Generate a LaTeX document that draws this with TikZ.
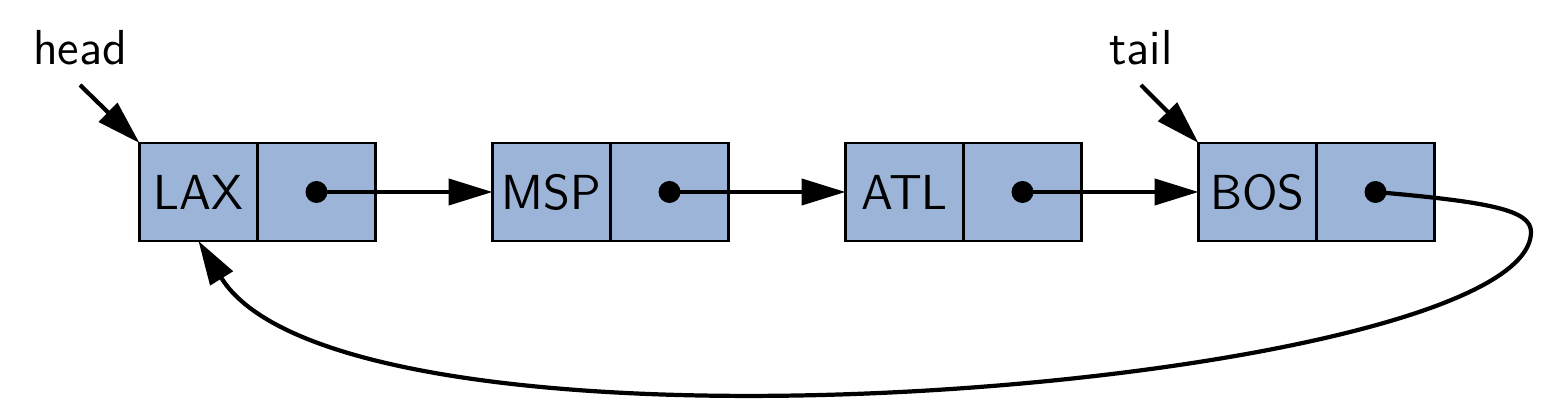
\documentclass[tikz,border=0pt]{standalone}
\usetikzlibrary{positioning,arrows.meta}
\definecolor{cellblue}{RGB}{157,180,217}
\begin{document}
\begin{tikzpicture}[
  font=\sffamily\fontsize{14}{17}\selectfont,
  cell/.style={draw, fill=cellblue, line width=0.8pt, outer sep=0pt,
    minimum width=1.18cm, minimum height=0.98cm, inner sep=0pt},
  link/.style={line width=1.2pt, -{Triangle[length=4.4mm,width=2.6mm]}},
  tag/.style={inner sep=0pt, anchor=base}
]
\useasboundingbox (0,0) rectangle (15.46,4.16);

\foreach \code [count=\i from 0] in {LAX,MSP,ATL,BOS} {
  \node[cell] (\code) at ({1.985+3.53*\i},2.24) {\code};
  \node[cell, right=0pt of \code] (\code p) {};
  \fill (\code p.center) circle (0.11);
}

\draw[link] (LAXp.center) -- (MSP.west);
\draw[link] (MSPp.center) -- (ATL.west);
\draw[link] (ATLp.center) -- (BOS.west);

\node[tag] (head) at (0.80,3.51) {head};
\coordinate (headend) at (0.80,3.31);
\draw[link] (headend) -- (LAX.north west);

\node[tag] (tail) at (11.41,3.51) {tail};
\coordinate (tailend) at (11.41,3.31);
\draw[link] (tailend) -- (BOS.north west);

\draw[link] (BOSp.center) .. controls (14.9,2.14) and (15.31,2.06) .. (15.31,1.84)
  .. controls (15.31,0.3) and (3.5,-0.7) .. (LAX.south);

\end{tikzpicture}
\end{document}
